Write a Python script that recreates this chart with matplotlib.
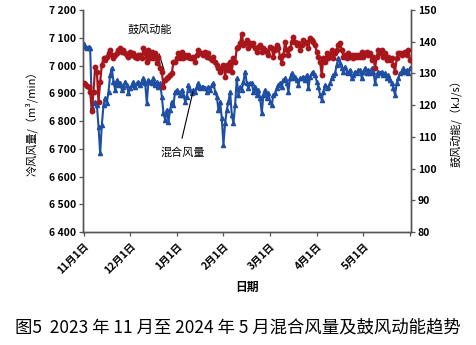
import numpy as np
import matplotlib
matplotlib.use("Agg")
import matplotlib.pyplot as plt

plt.rcParams["font.family"] = ["Noto Sans CJK SC", "DejaVu Sans"]

# 混合风量 (m3/min), left axis
air_volume = [
    7076, 7068, 7064, 7068, 7062, 6852, 6864, 6870, 6858, 6780, 6683, 6786, 6858, 6882, 6864, 6906, 6966, 6990,
    6942, 6912, 6948, 6930, 6936, 6912, 6924, 6942, 6930, 6900, 6918, 6930, 6942, 6924, 6936, 6942, 6930,
    6942, 6954, 6936, 6864, 6948, 6942, 6936, 6954, 6930, 6942, 6924, 6936, 6888, 6828, 6804, 6840, 6798,
    6840, 6870, 6858, 6906, 6912, 6906, 6894, 6912, 6894, 6870, 6888, 6930, 6912, 6900, 6912, 6906,
    6924, 6936, 6918, 6924, 6924, 6918, 6906, 6924, 6912, 6930, 6936, 6906, 6888, 6840, 6870, 6810, 6714,
    6792, 6840, 6870, 6906, 6822, 6792, 6858, 6954, 6894, 6924, 6912, 6942, 6978, 6936, 6918, 6936,
    6936, 6906, 6924, 6894, 6912, 6882, 6828, 6894, 6912, 6882, 6900, 6870, 6858, 6894, 6900, 6918, 6930,
    6936, 6924, 6948, 6954, 6936, 6906, 6954, 6972, 6954, 6960, 6948, 6930, 6954, 6954, 6960, 6948,
    6966, 6918, 6960, 6972, 6978, 6966, 6942, 6924, 6894, 6876, 6906, 6930, 6918, 6924, 6936, 6954, 6966,
    6972, 7002, 7026, 7008, 6990, 6978, 6996, 6978, 6972, 6984, 6954, 6966, 6978, 6972, 6984, 6984,
    6954, 6978, 6990, 6972, 6984, 6972, 6990, 6978, 6936, 6966, 6978, 6972, 6978, 6966, 6972, 6954, 6966,
    6948, 6936, 6918, 6894, 6936, 6954, 6972, 6978, 6990, 6978, 6984, 6972, 6990,
]

# 鼓风动能 (kJ/s), right axis
blast_energy = [
    126.9, 126.6, 126.1, 125.7, 124.2, 118.2, 124.2, 132.1, 130.6, 121.1, 127.4, 132.7, 134.8, 134.2, 135.3,
    136.3, 137.4, 135.8, 134.8, 135.8, 136.3, 137.4, 137.9, 136.9, 137.4, 136.3, 135.8, 135.3, 136.9, 135.8,
    136.3, 135.3, 134.8, 135.8, 135.8,
    134.8, 137.9, 136.3, 133.7, 137.4, 134.8, 136.9, 134.8, 136.3, 133.2, 135.3, 131.6, 130.6, 125.8, 127.9,
    128.5, 129.0, 129.5, 130.0, 133.7, 133.7, 134.8, 136.3, 134.8, 136.9, 134.8, 135.8, 135.3, 135.8, 134.8,
    134.8, 135.3, 133.7,
    135.8, 137.4, 136.3, 136.3, 135.8, 136.9, 135.3, 136.3, 134.8, 134.2, 135.3, 133.7, 132.7, 131.6, 130.6,
    131.6, 132.7, 129.0, 132.7, 131.1, 133.7, 130.6, 134.8, 133.7, 137.9, 138.4, 139.5, 142.5, 139.0, 139.5,
    140.5, 137.9, 139.5,
    139.0, 139.5, 137.9, 136.9, 138.4, 139.0, 136.9, 137.9, 137.4, 136.9, 135.8, 138.4, 137.9, 135.3, 137.4,
    139.0, 137.9, 135.3, 133.2, 135.8, 140.0, 137.4, 135.8, 137.9, 140.0, 141.6, 140.0, 139.0, 139.5, 137.4,
    139.0, 140.5, 139.5,
    140.0, 137.9, 141.1, 140.5, 140.0, 139.0, 136.9, 135.3, 133.7, 129.5, 134.8, 133.7, 136.3, 134.8, 135.8,
    137.4, 134.8, 136.3, 137.4, 139.0, 139.5, 137.4, 135.3, 135.8, 134.8, 136.3, 135.3, 135.8, 134.8, 135.8,
    135.3, 135.8, 135.3,
    136.9, 135.3, 136.3, 136.9, 135.8, 136.3, 134.2, 135.3, 131.6, 135.3, 137.4, 136.3, 137.4, 135.3, 136.3,
    134.2, 135.3, 134.2, 134.8, 132.7, 130.6, 134.8, 136.3, 136.3, 135.8, 136.3, 136.9, 135.8, 137.4, 134.2,
]

tick_labels = ["11月1日", "12月1日", "1月1日", "2月1日", "3月1日", "4月1日", "5月1日", ""]
tick_step = 28

RED = "#A8161C"
BLUE = "#1F4FA3"
AXIS = "#555555"

fig = plt.figure(figsize=(4.76, 3.45), dpi=100)
ax = fig.add_axes([0.1744, 0.3275, 0.6891, 0.6435])
ax2 = ax.twinx()

x = np.arange(len(air_volume))
ax.plot(x, air_volume, color=BLUE, lw=1.5, marker="^", ms=3.0, zorder=3)
ax2.plot(np.arange(len(blast_energy)), blast_energy, color=RED, lw=1.6, marker="o", ms=3.2, zorder=3)

ax.set_xlim(-0.3, 196.6)
ax.set_ylim(6400, 7200)
ax2.set_ylim(80, 150)
ax.set_yticks(np.arange(6400, 7201, 100))
ax.set_yticklabels([f"{v // 1000} {v % 1000:03d}" for v in range(6400, 7201, 100)])
ax2.set_yticks(np.arange(80, 151, 10))

ticks = np.arange(len(tick_labels)) * tick_step
ax.set_xticks(ticks)
ax.set_xticklabels(tick_labels, rotation=45, ha="right", rotation_mode="anchor",
                   fontsize=7.5, fontweight="bold")

for a in (ax, ax2):
    a.spines["top"].set_visible(False)
    for s in ("left", "right", "bottom"):
        a.spines[s].set_color(AXIS)
        a.spines[s].set_linewidth(1.0)
    a.tick_params(direction="out", length=3, width=0.9, color=AXIS, labelsize=7.5)
ax.tick_params(axis="y", pad=2)
ax2.tick_params(axis="y", pad=2)
for lab in ax.get_yticklabels() + ax2.get_yticklabels():
    lab.set_fontweight("bold")

ax.set_ylabel("冷风风量/（m³/min）", fontsize=8, labelpad=8)
ax2.set_ylabel("鼓风动能/（kJ/s）", fontsize=8, labelpad=10)
ax.set_xlabel("日期", fontsize=8.5, fontweight="bold", labelpad=4)

# series labels with leader lines
ax.text(0.204, 0.91, "鼓风动能", transform=ax.transAxes, fontsize=8, ha="center", va="center")
ax.plot([0.232, 0.247], [0.802, 0.730], transform=ax.transAxes, color="black", lw=0.8, zorder=5)
ax.text(0.305, 0.356, "混合风量", transform=ax.transAxes, fontsize=8, ha="center", va="center")
ax.plot([0.302, 0.335], [0.423, 0.631], transform=ax.transAxes, color="black", lw=0.8, zorder=5)

fig.text(0.5, 0.05, "图5  2023 年 11 月至 2024 年 5 月混合风量及鼓风动能趋势",
         ha="center", va="center", fontsize=12.5)

fig.savefig("out.png", dpi=100)
